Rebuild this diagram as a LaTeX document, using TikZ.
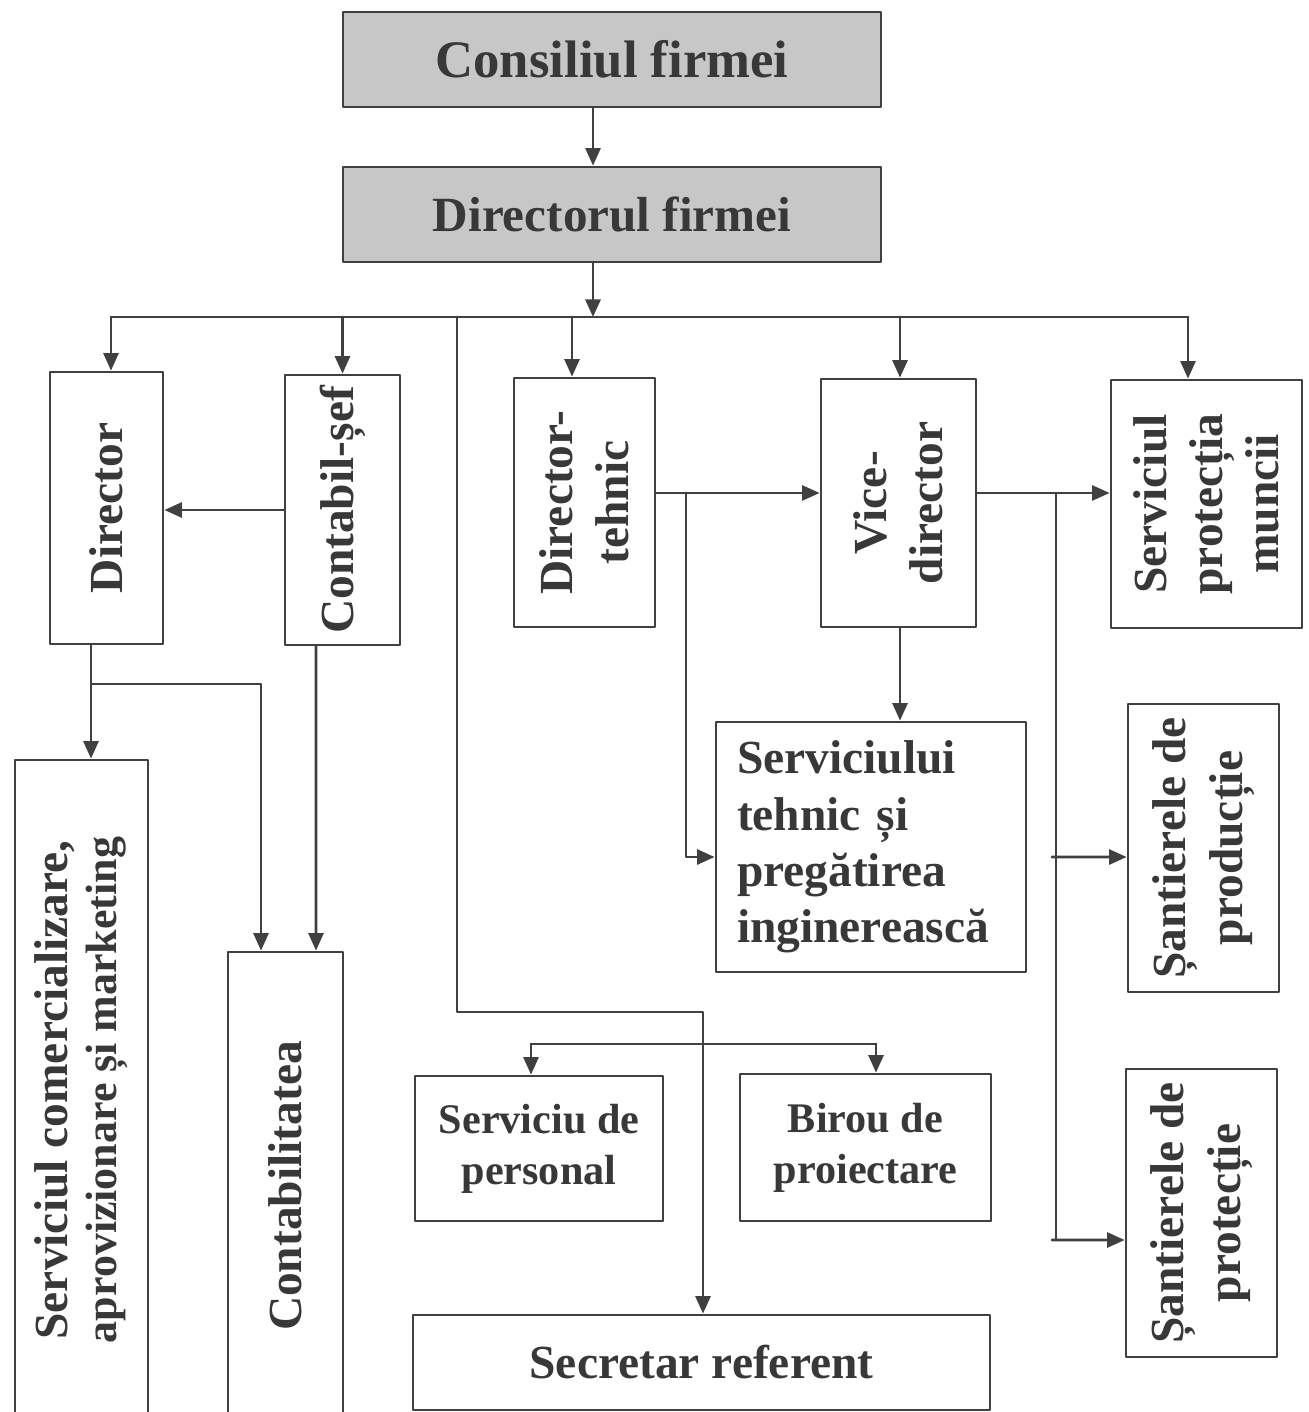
\documentclass[tikz,border=0pt]{standalone}
\usepackage{fontspec}
\setmainfont{Liberation Serif}
\usetikzlibrary{arrows.meta,positioning}

\tikzset{
  orgbox/.style={draw=black!75,line width=0.8pt,inner sep=1pt,text=black!78,
    font=\bfseries\fontsize{13.5}{16}\selectfont,align=center},
  headbox/.style={orgbox,fill=black!22},
  sidebox/.style={orgbox,rotate=90},
  link/.style={draw=black!75,line width=0.75pt},
  arr/.style={link,-{Triangle[length=5pt,width=4.3pt]}},
}

\begin{document}
\begin{tikzpicture}[line cap=round,line join=round]
\clip (0,0) rectangle (13.09,-14.12);
% conducerea
\node[headbox,minimum width=5.38cm,minimum height=0.95cm,font=\bfseries\fontsize{15}{18}\selectfont] (cons) at (6.12,-0.595) {Consiliul firmei};
\node[headbox,minimum width=5.38cm,minimum height=0.95cm,font=\bfseries\fontsize{14}{17}\selectfont] (dirf) at (6.12,-2.145) {Directorul firmei};
% randul al doilea (rotite: east = sus, west = jos, north = stanga, south = dreapta)
\node[sidebox,minimum width=2.72cm,minimum height=1.13cm] (dir) at (1.065,-5.08) {Director};
\node[sidebox,minimum width=2.70cm,minimum height=1.15cm] (cont) at (3.425,-5.10) {Contabil-șef};
\node[sidebox,minimum width=2.49cm,minimum height=1.41cm] (dtehn) at (5.845,-5.025) {Director-\\tehnic};
\node[sidebox,minimum width=2.48cm,minimum height=1.55cm] (vice) at (8.985,-5.03) {Vice-\\director};
\node[sidebox,minimum width=2.48cm,minimum height=1.91cm] (sprot) at (12.065,-5.04) {Serviciul\\protecția\\muncii};
% servicii
\node[orgbox,minimum width=3.10cm,minimum height=2.50cm,text width=2.68cm,inner xsep=0.21cm,align=left] (stehn) at (8.71,-8.47) {Serviciului\\tehnic și\\pregătirea\\inginerească};
\node[sidebox,minimum width=2.88cm,minimum height=1.51cm] (sprod) at (12.035,-8.48) {Șantierele de\\producție};
\node[sidebox,minimum width=2.88cm,minimum height=1.51cm] (spct) at (12.015,-12.13) {Șantierele de\\protecție};
\node[sidebox,minimum width=6.60cm,minimum height=1.33cm] (scom) at (0.815,-10.90) {Serviciul comercializare,\\[-2pt]{\fontsize{12.5}{14}\selectfont aprovizionare și marketing}};
\node[sidebox,minimum width=4.68cm,minimum height=1.15cm] (cbil) at (2.855,-11.86) {Contabilitatea};
\node[orgbox,minimum width=2.48cm,minimum height=1.45cm,font=\bfseries\fontsize{12}{14.5}\selectfont] (pers) at (5.39,-11.485) {Serviciu de\\personal};
\node[orgbox,minimum width=2.51cm,minimum height=1.47cm,font=\bfseries\fontsize{12}{14.5}\selectfont] (birou) at (8.655,-11.475) {Birou de\\proiectare};
\node[orgbox,minimum width=5.77cm,minimum height=0.95cm] (secr) at (7.015,-13.625) {Secretar referent};

% legaturi
\coordinate (bus) at (5.93,-3.17);
\coordinate (busL) at (1.11,-3.17);
\coordinate (busR) at (11.88,-3.17);
\coordinate (sj) at (4.57,-3.17);
\draw[arr] (cons.south -| bus) -- (dirf.north -| bus);
\draw[arr] (dirf.south -| bus) -- (bus);
\draw[link] (busL) -- (busR);
\draw[arr] (busL) -- (busL |- dir.east);
\draw[arr] (bus -| cont.east) -- (cont.east);
\draw[arr] (5.72,-3.17) -- (5.72,-3.17 |- dtehn.east);
\draw[arr] (9.00,-3.17) -- (9.00,-3.17 |- vice.east);
\draw[arr] (busR) -- (busR |- sprot.east);
\draw[arr] (cont.north) -- (cont.north -| dir.south);
\coordinate (tj) at (6.86,-4.93);
\coordinate (vj) at (10.56,-4.93);
\draw[arr] (tj -| dtehn.south) -- (tj -| vice.north);
\draw[arr] (vj -| vice.south) -- (vj -| sprot.north);
\draw[arr] (tj) |- ([yshift=-0.1cm]stehn.west);
\draw[arr] (vice.west -| 9.00,0) -- (9.00,0 |- stehn.north);
\draw[link] (vj) -- (10.56,-12.40);
\draw[arr] (10.52,-8.57) -- ([yshift=-0.09cm]sprod.north);
\draw[arr] (10.52,-12.40) -- ([yshift=-0.27cm]spct.north);
\coordinate (dj) at (0.91,-6.84);
\draw[arr] (dj |- dir.west) -- (dj |- scom.east);
\draw[arr] (dj) -| ([xshift=-0.245cm]cbil.east);
\draw[arr] ([xshift=-0.265cm]cont.west) -- ([xshift=0.305cm]cbil.east);
\coordinate (sk) at (7.03,-10.12);
\draw[arr] (sj) |- (sk) -- (sk |- secr.north);
\coordinate (pb) at (5.31,-10.44);
\coordinate (bb) at (8.76,-10.44);
\draw[link] (pb) -- (bb);
\draw[arr] (pb) -- (pb |- pers.north);
\draw[arr] (bb) -- (bb |- birou.north);
\end{tikzpicture}
\end{document}
